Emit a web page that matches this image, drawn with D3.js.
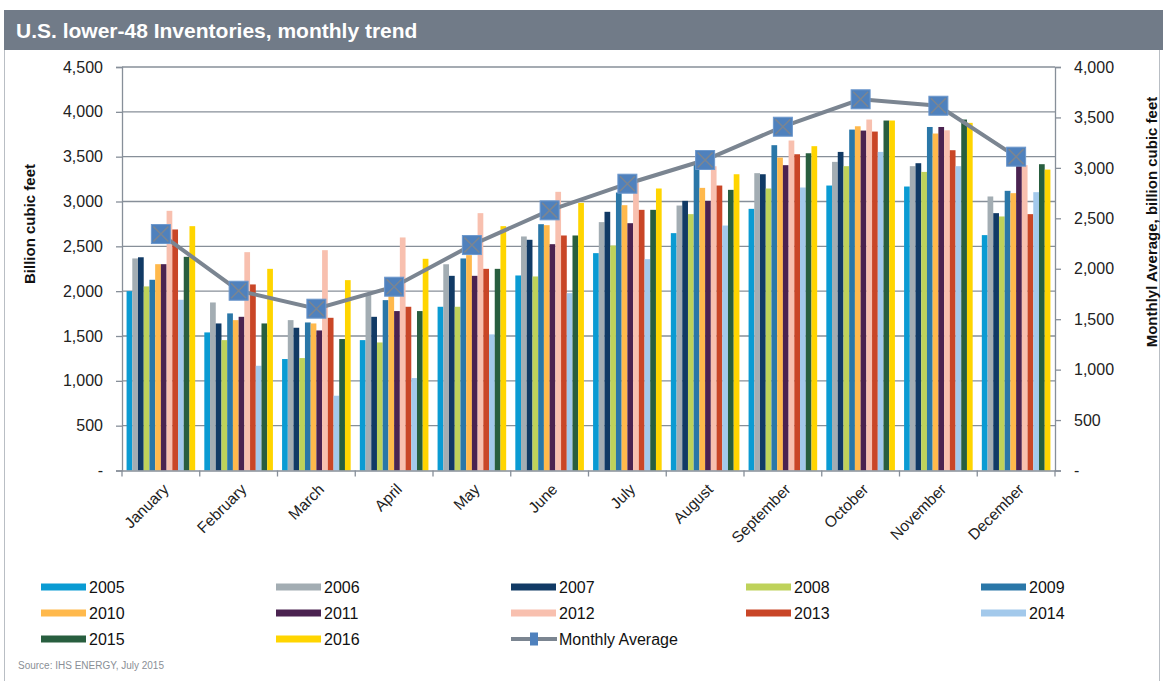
<!DOCTYPE html>
<html>
<head>
<meta charset="utf-8">
<script src="https://cdn.jsdelivr.net/npm/d3@7"></script>
<style>
  body { margin: 0; background: #fff; }
  svg { display: block; font-family: "Liberation Sans", Arial, sans-serif; }
</style>
</head>
<body>
<svg id="chart"></svg>
<script>
var months = ["January", "February", "March", "April", "May", "June", "July", "August", "September", "October", "November", "December"];
var years = ["2005", "2006", "2007", "2008", "2009", "2010", "2011", "2012", "2013", "2014", "2015", "2016"];

// end-of-month inventories, billion cubic feet
var inv2005 = [2000, 1540, 1243, 1454, 1826, 2175, 2424, 2647, 2918, 3178, 3167, 2625];
var inv2006 = [2365, 1874, 1677, 1960, 2300, 2610, 2770, 2955, 3316, 3442, 3394, 3056];
var inv2007 = [2378, 1640, 1592, 1714, 2171, 2573, 2885, 3007, 3304, 3553, 3427, 2870];
var inv2008 = [2053, 1454, 1254, 1428, 1826, 2164, 2509, 2859, 3145, 3394, 3330, 2833];
var inv2009 = [2127, 1752, 1651, 1900, 2365, 2747, 3100, 3420, 3628, 3802, 3831, 3119];
var inv2010 = [2301, 1677, 1640, 1945, 2402, 2736, 2959, 3152, 3490, 3839, 3758, 3093];
var inv2011 = [2301, 1714, 1562, 1778, 2171, 2524, 2758, 3007, 3405, 3791, 3831, 3460];
var inv2012 = [2896, 2435, 2457, 2599, 2870, 3108, 3210, 3393, 3680, 3914, 3794, 3405];
var inv2013 = [2688, 2075, 1703, 1826, 2249, 2621, 2907, 3178, 3527, 3780, 3572, 2859];
var inv2014 = [1904, 1168, 834, 1031, 1518, 1978, 2357, 2732, 3156, 3553, 3394, 3104];
var inv2015 = [2383, 1640, 1466, 1778, 2249, 2621, 2907, 3130, 3538, 3903, 3914, 3416];
var inv2016 = [2725, 2249, 2123, 2361, 2725, 2985, 3145, 3304, 3617, 3903, 3877, 3356];
var monthlyAverage = [2344, 1782, 1604, 1822, 2235, 2579, 2843, 3078, 3408, 3680, 3616, 3111];

var yearColors = ["#0a9bd3", "#a3adb3", "#113a65", "#bed25a", "#2a77a8", "#ffb94c", "#4b2350", "#f8c0af", "#c94627", "#a3c9eb", "#285e3f", "#ffd500"];
var leftTicks = [0, 500, 1000, 1500, 2000, 2500, 3000, 3500, 4000, 4500];
var rightTicks = [0, 500, 1000, 1500, 2000, 2500, 3000, 3500, 4000];

var series = [inv2005, inv2006, inv2007, inv2008, inv2009, inv2010, inv2011, inv2012, inv2013, inv2014, inv2015, inv2016];

var width = 1163, height = 681;
var plotLeft = 122, plotRight = 1055, plotTop = 67, plotBottom = 470.5;
var axisColor = "#878f99";
var lineColor = "#7b8591";

var svg = d3.select("#chart")
    .attr("width", width)
    .attr("height", height);

// frame and title bar
svg.append("rect")
    .attr("x", 4.5).attr("y", 10.5)
    .attr("width", 1155).attr("height", 675)
    .attr("fill", "none")
    .attr("stroke", "#b9bec4");
svg.append("rect")
    .attr("x", 4).attr("y", 10)
    .attr("width", 1159).attr("height", 40)
    .attr("fill", "#717b88");
svg.append("text")
    .attr("x", 16).attr("y", 38)
    .attr("fill", "#fff")
    .attr("font-size", "21px")
    .attr("font-weight", "bold")
    .text("U.S. lower-48 Inventories, monthly trend");

var x = d3.scaleBand().domain(months).range([plotLeft, plotRight]).padding(0);
var xYear = d3.scaleBand().domain(years).range([0, x.bandwidth()]).paddingInner(0).paddingOuter(0.8);
var y = d3.scaleLinear().domain([0, 4500]).range([plotBottom, plotTop]);
var y2 = d3.scaleLinear().domain([0, 4000]).range([plotBottom, plotTop]);

var fmt = function(d) { return d === 0 ? "-" : d3.format(",")(d); };

// gridlines
svg.append("g")
    .selectAll("line")
    .data(leftTicks.filter(function(d) { return d > 0; }))
    .enter().append("line")
    .attr("x1", plotLeft).attr("x2", plotRight)
    .attr("y1", function(d) { return y(d); })
    .attr("y2", function(d) { return y(d); })
    .attr("stroke", axisColor)
    .attr("stroke-width", 1.3);

// bars
var groups = svg.append("g")
    .selectAll("g")
    .data(series)
    .enter().append("g")
    .attr("fill", function(d, i) { return yearColors[i]; });

groups.each(function(vals, si) {
    d3.select(this).selectAll("rect")
      .data(vals)
      .enter().append("rect")
      .attr("x", function(d, i) { return x(months[i]) + xYear(years[si]); })
      .attr("width", xYear.bandwidth())
      .attr("y", function(d) { return y(d); })
      .attr("height", function(d) { return plotBottom - y(d); });
});

// axes
var leftAxis = d3.axisLeft(y).tickValues(leftTicks).tickFormat(fmt).tickSize(6).tickPadding(13);
var rightAxis = d3.axisRight(y2).tickValues(rightTicks).tickFormat(fmt).tickSize(6).tickPadding(13);
var bottomAxis = d3.axisBottom(x).tickSize(0).tickPadding(0);

var gl = svg.append("g").attr("transform", "translate(" + plotLeft + ",0)").call(leftAxis);
var gr = svg.append("g").attr("transform", "translate(" + plotRight + ",0)").call(rightAxis);
[gl, gr].forEach(function(g) {
    g.select(".domain").attr("stroke", axisColor).attr("stroke-width", 1.3);
    g.selectAll(".tick line").attr("stroke", axisColor).attr("stroke-width", 1.3);
    g.selectAll(".tick text").attr("font-size", "16px").attr("fill", "#222").attr("font-family", "Liberation Sans, Arial, sans-serif");
});

var gb = svg.append("g").attr("transform", "translate(0," + plotBottom + ")").call(bottomAxis);
gb.select(".domain").attr("stroke", axisColor).attr("stroke-width", 1.3);
gb.selectAll(".tick text")
    .attr("font-size", "15.5px")
    .attr("fill", "#222")
    .attr("font-family", "Liberation Sans, Arial, sans-serif")
    .attr("text-anchor", "end")
    .attr("transform", "translate(5,16) rotate(-45)")
    .attr("dy", "0.35em")
    .attr("y", 0);
// ticks at band edges
gb.selectAll(".edge")
    .data(d3.range(months.length + 1))
    .enter().append("line")
    .attr("x1", function(i) { return plotLeft + i * x.step(); })
    .attr("x2", function(i) { return plotLeft + i * x.step(); })
    .attr("y1", 0).attr("y2", 6)
    .attr("stroke", axisColor)
    .attr("stroke-width", 1.3);

// axis titles
svg.append("text")
    .attr("transform", "translate(35,224) rotate(-90)")
    .attr("text-anchor", "middle")
    .attr("font-size", "15px")
    .attr("font-weight", "bold")
    .attr("fill", "#111")
    .text("Billion cubic feet");
svg.append("text")
    .attr("transform", "translate(1157,222) rotate(-90)")
    .attr("text-anchor", "middle")
    .attr("font-size", "15px")
    .attr("font-weight", "bold")
    .attr("fill", "#111")
    .text("Monthlyl Average, billion cubic feet");

// monthly average line
var cx = function(d, i) { return x(months[i]) + x.bandwidth() / 2; };
var line = d3.line().x(cx).y(function(d) { return y2(d); });
svg.append("path")
    .datum(monthlyAverage)
    .attr("d", line)
    .attr("fill", "none")
    .attr("stroke", lineColor)
    .attr("stroke-width", 4);

var ms = 9.5;
var markers = svg.append("g")
    .selectAll("g")
    .data(monthlyAverage)
    .enter().append("g")
    .attr("transform", function(d, i) { return "translate(" + cx(d, i) + "," + y2(d) + ")"; });
markers.append("rect")
    .attr("x", -ms).attr("y", -ms)
    .attr("width", ms * 2).attr("height", ms * 2)
    .attr("fill", "#4f81bd")
    .attr("stroke", "#6d98cc")
    .attr("stroke-width", 1);
markers.append("path")
    .attr("d", "M" + (-ms + 2) + "," + (-ms + 2) + "L" + (ms - 2) + "," + (ms - 2) + "M" + (ms - 2) + "," + (-ms + 2) + "L" + (-ms + 2) + "," + (ms - 2))
    .attr("stroke", lineColor)
    .attr("stroke-width", 1.6);

// legend
var legendItems = years.map(function(yr, i) { return { label: yr, color: yearColors[i] }; });
legendItems.push({ label: "Monthly Average", line: true });
var legend = svg.append("g")
    .selectAll("g")
    .data(legendItems)
    .enter().append("g")
    .attr("transform", function(d, i) {
        return "translate(" + (41 + (i % 5) * 235) + "," + (587 + Math.floor(i / 5) * 26) + ")";
    });
legend.each(function(d) {
    var g = d3.select(this);
    if (d.line) {
        g.append("line").attr("x1", 0).attr("x2", 46).attr("y1", 0).attr("y2", 0)
          .attr("stroke", lineColor).attr("stroke-width", 4);
        g.append("rect").attr("x", 19).attr("y", -6.5).attr("width", 8).attr("height", 13)
          .attr("fill", "#4f81bd");
    } else {
        g.append("rect").attr("x", 0).attr("y", -3.5).attr("width", 45).attr("height", 7)
          .attr("fill", d.color);
    }
    g.append("text")
      .attr("x", 48).attr("y", 6)
      .attr("font-size", "16px")
      .attr("fill", "#111")
      .text(d.label);
});

svg.append("text")
    .attr("x", 18).attr("y", 669)
    .attr("font-size", "10px")
    .attr("fill", "#8a8f96")
    .text("Source: IHS ENERGY, July 2015");
</script>
</body>
</html>
